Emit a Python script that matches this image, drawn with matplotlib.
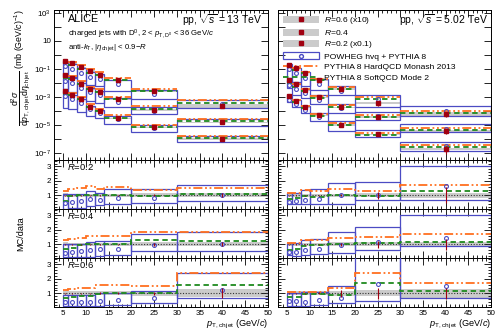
import matplotlib
matplotlib.use("Agg")
import matplotlib.pyplot as plt
from matplotlib.patches import Rectangle
from matplotlib.lines import Line2D
from matplotlib.ticker import FixedLocator, MultipleLocator, NullLocator, FuncFormatter, NullFormatter

plt.rcParams['font.family'] = ['Liberation Sans', 'DejaVu Sans']
plt.rcParams['mathtext.fontset'] = 'custom'
plt.rcParams['mathtext.rm'] = 'Liberation Sans'
plt.rcParams['mathtext.it'] = 'Liberation Sans:italic'
plt.rcParams['mathtext.bf'] = 'Liberation Sans:bold'

# ---- data (rows: R=0.2, R=0.4, R=0.6) ----
radii = ["0.2", "0.4", "0.6"]
scales = [0.1, 1.0, 10.0]

# pp 13 TeV
edges_13 = [5, 6, 8, 10, 12, 14, 20, 30, 50]
xsec_13 = [
    [0.026, 0.013, 0.0066, 0.0018, 0.0010, 3.0e-4, 6.8e-5, 1.0e-5],
    [0.034, 0.023, 0.0088, 0.0035, 0.0022, 6.6e-4, 1.15e-4, 1.5e-5],
    [0.0385, 0.025, 0.013, 0.0068, 0.0038, 0.0015, 2.5e-4, 2.4e-5],
]
stat_13 = [
    [0.03, 0.03, 0.03, 0.04, 0.05, 0.05, 0.08, 0.15],
    [0.03, 0.03, 0.03, 0.04, 0.05, 0.05, 0.1, 0.15],
    [0.03, 0.03, 0.04, 0.05, 0.06, 0.06, 0.12, 0.35],
]
sys_13 = [
    [0.14, 0.12, 0.12, 0.12, 0.12, 0.12, 0.13, 0.15],
    [0.13, 0.11, 0.11, 0.11, 0.11, 0.11, 0.13, 0.15],
    [0.16, 0.13, 0.13, 0.13, 0.13, 0.13, 0.16, 0.28],
]
powheg_13 = [
    [0.48, 0.55, 0.6, 0.72, 0.67, 0.84, 0.84, 1.0],
    [0.41, 0.46, 0.53, 0.62, 0.65, 0.65, 0.93, 1.0],
    [0.41, 0.41, 0.41, 0.41, 0.5, 0.53, 0.65, 1.21],
]
powheg_lo_13 = [
    [0.06, 0.1, 0.12, 0.25, 0.3, 0.41, 0.48, 0.6],
    [0.1, 0.1, 0.12, 0.15, 0.18, 0.27, 0.53, 0.53],
    [0.1, 0.1, 0.1, 0.1, 0.15, 0.17, 0.3, 0.7],
]
powheg_hi_13 = [
    [1.07, 1.07, 1.07, 1.3, 1.14, 1.42, 1.42, 1.73],
    [1.0, 1.0, 1.05, 1.16, 1.21, 1.21, 1.7, 1.87],
    [0.88, 0.88, 0.88, 0.88, 1.05, 1.05, 1.16, 2.38],
]
hardqcd_13 = [
    [1.3, 1.42, 1.54, 1.63, 1.45, 1.59, 1.35, 1.54],
    [1.28, 1.4, 1.45, 1.56, 1.56, 1.56, 1.87, 1.87],
    [1.21, 1.28, 1.35, 1.35, 1.56, 1.56, 1.52, 2.38],
]
softqcd_13 = [
    [0.6, 0.98, 1.05, 1.0, 1.05, 1.03, 0.98, 1.1],
    [0.7, 0.77, 0.93, 1.0, 1.0, 1.0, 1.28, 1.23],
    [0.7, 0.74, 0.81, 0.81, 0.98, 1.0, 1.05, 1.56],
]

# pp 5.02 TeV
edges_5 = [5, 6, 8, 10, 14, 20, 30, 50]
xsec_5 = [
    [0.011, 0.0054, 0.0018, 4.9e-4, 9.8e-5, 2.1e-5, 2.0e-6],
    [0.015, 0.0079, 0.0029, 9.1e-4, 1.8e-4, 3.5e-5, 3.7e-6],
    [0.02, 0.011, 0.0055, 0.0017, 3.9e-4, 3.9e-5, 6.0e-6],
]
stat_5 = [
    [0.03, 0.04, 0.04, 0.05, 0.08, 0.25, 0.55],
    [0.03, 0.04, 0.04, 0.05, 0.1, 0.25, 0.4],
    [0.04, 0.05, 0.05, 0.08, 0.25, 0.4, 0.4],
]
sys_5 = [
    [0.13, 0.12, 0.12, 0.12, 0.12, 0.14, 0.16],
    [0.13, 0.12, 0.12, 0.12, 0.13, 0.15, 0.18],
    [0.15, 0.14, 0.14, 0.14, 0.16, 0.2, 0.3],
]
powheg_5 = [
    [0.55, 0.6, 0.67, 0.76, 1.0, 1.05, 1.65],
    [0.5, 0.5, 0.62, 0.7, 0.93, 1.16, 1.45],
    [0.46, 0.46, 0.41, 0.53, 0.7, 1.68, 1.52],
]
powheg_lo_5 = [
    [0.37, 0.37, 0.37, 0.41, 0.41, 0.65, 0.7],
    [0.27, 0.18, 0.27, 0.34, 0.39, 0.62, 0.86],
    [0.11, 0.11, 0.11, 0.18, 0.34, 0.46, 0.7],
]
powheg_hi_5 = [
    [1.14, 1.14, 1.35, 1.42, 1.82, 1.94, 3.0],
    [1.09, 1.09, 1.33, 1.4, 1.82, 2.22, 3.0],
    [1.05, 1.05, 1.12, 1.12, 1.52, 3.6, 3.6],
]
hardqcd_5 = [
    [1.19, 1.19, 1.35, 1.3, 1.42, 1.3, 1.73],
    [1.09, 1.09, 1.28, 1.33, 1.45, 1.52, 1.7],
    [1.09, 1.12, 1.12, 1.12, 1.4, 2.38, 1.75],
]
softqcd_5 = [
    [0.72, 0.8, 0.95, 0.9, 1.0, 0.97, 1.3],
    [0.62, 0.7, 0.86, 0.93, 1.0, 1.09, 1.16],
    [0.74, 0.74, 0.93, 0.93, 0.88, 1.7, 1.16],
]

# ---- styles ----
c_data = "#a00010"
c_sys = "#cbcbcb"
c_pow = "#4b4bc3"
c_hard = "#ff7020"
c_soft = "#1f8a1f"
ls_hard = (0, (5, 1.5, 1, 1.5, 1, 1.5))
ls_soft = (0, (3, 2))

W, H = 499, 333
fig = plt.figure(figsize=(W / 100, H / 100), dpi=100)


def pos(x0, x1, y0, y1):
    return [x0 / W, 1 - y1 / H, (x1 - x0) / W, (y1 - y0) / H]


cols = [(54, 268), (278, 491)]
rows = [(10, 160), (160, 209), (209, 258), (258, 307)]

sets = [
    (edges_13, xsec_13, stat_13, sys_13, powheg_13, powheg_lo_13, powheg_hi_13, hardqcd_13, softqcd_13),
    (edges_5, xsec_5, stat_5, sys_5, powheg_5, powheg_lo_5, powheg_hi_5, hardqcd_5, softqcd_5),
]


def style_ticks(ax):
    ax.tick_params(which="both", direction="in", top=True, right=True, width=0.6, labelsize=5.8, pad=2)
    ax.tick_params(which="major", length=5)
    ax.tick_params(which="minor", length=2.5)
    ax.xaxis.set_major_locator(MultipleLocator(5))
    ax.xaxis.set_minor_locator(MultipleLocator(1))
    for s in ax.spines.values():
        s.set_linewidth(0.7)


def log_label(v, p):
    import math
    n = int(round(math.log10(v)))
    if n % 2 == 0:
        return ""
    if n == 1:
        return "10"
    return r"10$^{%d}$" % n


for j, (edges, xsec, stat, sysu, pw, pwlo, pwhi, hard, soft) in enumerate(sets):
    nb = len(edges) - 1
    centers = [(edges[i] + edges[i + 1]) / 2 for i in range(nb)]
    # ---- spectrum panel ----
    ax = fig.add_axes(pos(cols[j][0], cols[j][1], *rows[0]))
    ax.set_yscale("log")
    ax.set_xlim(3, 50)
    ax.set_ylim(10 ** -7.5, 10 ** 3.2)
    style_ticks(ax)
    ax.yaxis.set_major_locator(FixedLocator([10.0 ** k for k in range(-7, 4)]))
    ax.yaxis.set_minor_locator(NullLocator())
    if j == 0:
        ax.yaxis.set_major_formatter(FuncFormatter(log_label))
    else:
        ax.yaxis.set_major_formatter(NullFormatter())
    ax.xaxis.set_major_formatter(NullFormatter())
    for r in range(3):
        sc = scales[r]
        for i in range(nb):
            v = xsec[r][i] * sc
            x0, x1 = edges[i], edges[i + 1]
            ax.add_patch(Rectangle((x0, v * (1 - sysu[r][i])), x1 - x0, v * 2 * sysu[r][i],
                                   facecolor=c_sys, edgecolor="none", zorder=1))
            ax.add_patch(Rectangle((x0, v * pwlo[r][i]), x1 - x0, v * (pwhi[r][i] - pwlo[r][i]),
                                   facecolor="none", edgecolor=c_pow, lw=0.9, zorder=2))
            ax.hlines(v * hard[r][i], x0, x1, colors=c_hard, linestyles=ls_hard, lw=1.3, zorder=3)
            ax.hlines(v * soft[r][i], x0, x1, colors=c_soft, linestyles=ls_soft, lw=1.3, zorder=3)
        vals = [xsec[r][i] * sc for i in range(nb)]
        ax.plot(centers, [vals[i] * pw[r][i] for i in range(nb)], "o", ms=2.8, mfc="none",
                mec=c_pow, mew=0.8, zorder=4)
        ax.errorbar(centers, vals, yerr=[[vals[i] * stat[r][i] for i in range(nb)]] * 2,
                    fmt="s", ms=2.3, color=c_data, elinewidth=0.8, capsize=0, zorder=5)

    if j == 0:
        ax.text(0.065, 0.94, "ALICE", transform=ax.transAxes, fontsize=7.8, va="center")
        ax.text(0.972, 0.935, r"pp, $\sqrt{s}$ = 13 TeV", transform=ax.transAxes, fontsize=7.5,
                ha="right", va="center")
        ax.text(0.065, 0.84, r"charged jets with D$^0$, 2 < $p_{\mathrm{T,D^0}}$ < 36 GeV/$c$",
                transform=ax.transAxes, fontsize=5.6, va="center")
        ax.text(0.065, 0.752, r"anti-$k_{\mathrm{T}}$, |$\eta_{\mathrm{ch\,jet}}$| < 0.9$-R$",
                transform=ax.transAxes, fontsize=5.6, va="center")
    else:
        ax.text(0.986, 0.935, r"pp, $\sqrt{s}$ = 5.02 TeV", transform=ax.transAxes, fontsize=7.5,
                ha="right", va="center")
        handles = []
        labels = []
        for r, lab in [(2, r"$R$=0.6 (x10)"), (1, r"$R$=0.4"), (0, r"$R$=0.2 (x0.1)")]:
            handles.append((Rectangle((0, 0), 1, 1, facecolor=c_sys, edgecolor="none"),
                            Line2D([], [], marker="s", ms=2.3, color=c_data, ls="none")))
            labels.append(lab)
        handles.append((Rectangle((0, 0), 1, 1, facecolor="none", edgecolor=c_pow, lw=0.9),
                        Line2D([], [], marker="o", ms=2.8, mfc="none", mec=c_pow, ls="none")))
        labels.append("POWHEG hvq + PYTHIA 8")
        handles.append(Line2D([], [], color=c_hard, ls=ls_hard, lw=1.3))
        labels.append("PYTHIA 8 HardQCD Monash 2013")
        handles.append(Line2D([], [], color=c_soft, ls=ls_soft, lw=1.3))
        labels.append("PYTHIA 8 SoftQCD Mode 2")
        ax.legend(handles, labels, loc="upper left", bbox_to_anchor=(0.0, 1.0), frameon=False,
                  fontsize=6.1, handlelength=4.2, handleheight=0.9, labelspacing=0.25,
                  handletextpad=0.6, borderpad=0.4, borderaxespad=0.2)

    # ---- ratio panels ----
    for r in range(3):
        ax = fig.add_axes(pos(cols[j][0], cols[j][1], *rows[r + 1]))
        ax.set_xlim(3, 50)
        ax.set_ylim(0.05, 3.45)
        style_ticks(ax)
        ax.yaxis.set_major_locator(FixedLocator([1, 2, 3]))
        ax.yaxis.set_minor_locator(MultipleLocator(0.2))
        if j == 1:
            ax.yaxis.set_major_formatter(NullFormatter())
        if r < 2:
            ax.xaxis.set_major_formatter(NullFormatter())
        ax.stairs([1 + s for s in sysu[r]], edges, baseline=[1 - s for s in sysu[r]], fill=True,
                  color=c_sys, zorder=1)
        ax.hlines(1, edges[0], edges[-1], colors="#333333", linestyles=(0, (1, 1.5)), lw=0.8, zorder=2)
        for i in range(nb):
            x0, x1 = edges[i], edges[i + 1]
            ax.add_patch(Rectangle((x0, pwlo[r][i]), x1 - x0, pwhi[r][i] - pwlo[r][i],
                                   facecolor="none", edgecolor=c_pow, lw=0.9, zorder=3))
        ax.stairs(hard[r], edges, baseline=None, color=c_hard, ls=ls_hard, lw=1.3, zorder=4)
        ax.stairs(soft[r], edges, baseline=None, color=c_soft, ls=ls_soft, lw=1.3, zorder=4)
        ax.plot(centers, pw[r], "o", ms=2.8, mfc="none", mec=c_pow, mew=0.8, zorder=5)
        ax.errorbar(centers, [1] * nb, yerr=stat[r], fmt="none", ecolor=c_data, elinewidth=0.8,
                    capsize=0, zorder=6)
        if j == 0:
            ax.text(0.06, 0.86, r"$R$=" + radii[r], transform=ax.transAxes, fontsize=6.8, va="center")
        if r == 2:
            ax.set_xlabel(r"$p_{\mathrm{T,ch\,jet}}$ (GeV/$c$)", fontsize=6.6, loc="right", labelpad=1)

fig.text(21 / W, 1 - 68 / H,
         r"$\dfrac{\mathrm{d}^2\sigma}{\mathrm{d}p_{\mathrm{T,ch\,jet}}\mathrm{d}\eta_{\mathrm{ch\,jet}}}$ (mb $(\mathrm{GeV}/c)^{-1}$)",
         rotation=90, ha="center", va="center", fontsize=6.3)
fig.text(21 / W, 1 - 234 / H, "MC/data", rotation=90, ha="center", va="center", fontsize=6.6)

fig.savefig("out.png", dpi=100)
